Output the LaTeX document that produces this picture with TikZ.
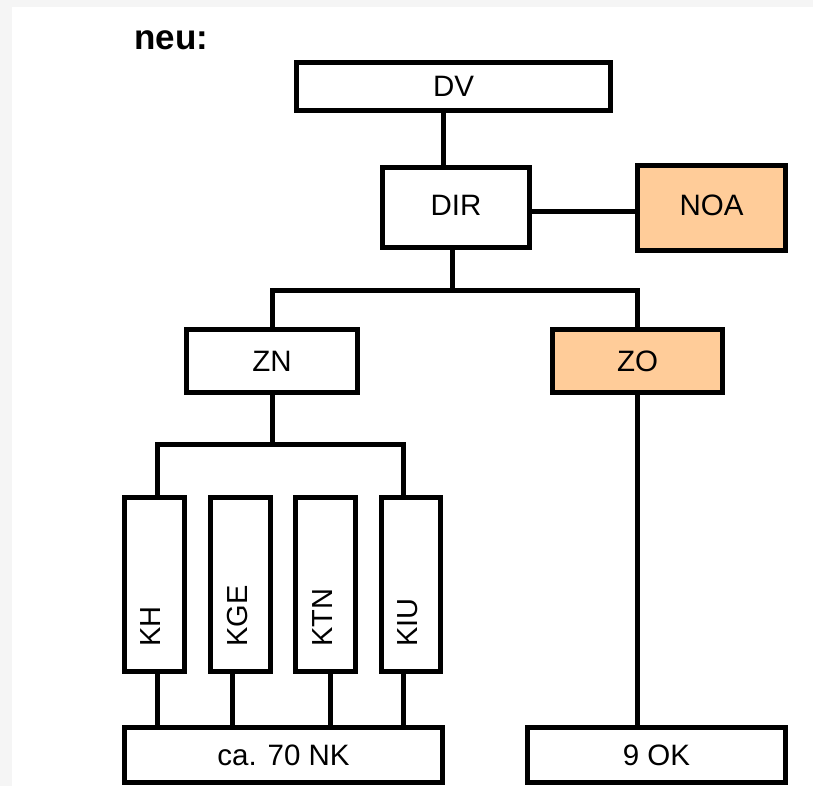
\documentclass[tikz,border=0pt]{standalone}
\usepackage{fontspec}
\setmainfont{Liberation Sans}
\definecolor{peach}{HTML}{FFCC99}
\definecolor{bggray}{HTML}{F5F5F5}
\begin{document}
\begin{tikzpicture}[x=1pt,y=-1pt,
  box/.style={draw=black, line width=5pt, fill=white, inner sep=0pt, font=\fontsize{29.5}{34}\selectfont},
  hl/.style={box, fill=peach},
  vlabel/.style={rotate=90, anchor=base west, inner sep=0pt, font=\fontsize{29}{34}\selectfont},
  conn/.style={draw=black, line width=5pt}]
\useasboundingbox (0,0) rectangle (813,786);
\fill[bggray] (0,0) rectangle (813,786);
\fill[white] (12,7) rectangle (813,786);

\node[anchor=base west, inner sep=0pt, font=\fontsize{35}{40}\selectfont\bfseries] (title) at (134,50) {neu:};

\node[box, minimum width=314pt, minimum height=48pt] (DV) at (453.5,86.5) {\raisebox{-1.5pt}{DV}};
\node[box, minimum width=147pt, minimum height=80pt] (DIR) at (456,207.5) {\raisebox{5pt}{DIR}};
\node[hl, minimum width=148pt, minimum height=85pt] (NOA) at (711.5,208) {\raisebox{5pt}{NOA}};
\node[box, minimum width=171pt, minimum height=63pt] (ZN) at (272,361) {ZN};
\node[hl, minimum width=170pt, minimum height=63pt] (ZO) at (637.5,361) {ZO};

\node[box, minimum width=60pt, minimum height=174pt] (KH) at (154.5,584.5) {};
\node[box, minimum width=60pt, minimum height=174pt] (KGE) at (240.5,584.5) {};
\node[box, minimum width=60pt, minimum height=174pt] (KTN) at (325.5,584.5) {};
\node[box, minimum width=59pt, minimum height=174pt] (KIU) at (411,584.5) {};
\node[vlabel] (tKH) at (160,647) {KH};
\node[vlabel] (tKGE) at (247,647) {KGE};
\node[vlabel] (tKTN) at (332,647) {KTN};
\node[vlabel] (tKIU) at (417,647) {KIU};

\node[box, minimum width=318pt, minimum height=55pt] (NK) at (283.5,755) {ca. 70 NK};
\node[box, minimum width=258pt, minimum height=55pt] (OK) at (656.5,755) {9 OK};

\coordinate (a) at (443,0);
\coordinate (b) at (0,212);
\coordinate (c) at (452,290.5);
\coordinate (d) at (272,444);
\coordinate (k1) at (157,0);
\coordinate (k2) at (232,0);
\coordinate (k3) at (330,0);
\coordinate (k4) at (403,0);
\coordinate (z) at (637.5,0);

\draw[conn] (DV.south -| a) -- (DIR.north -| a);
\draw[conn] (DIR.east |- b) -- (NOA.west |- b);
\draw[conn] (DIR.south -| c) -- (c);
\draw[conn] (ZN.north) |- (c) -| (ZO.north);
\draw[conn] (ZN.south) -- (d);
\draw[conn] (KH.north -| k1) |- (d) -| (KIU.north -| k4);
\draw[conn] (KGE.north -| k2) -- (KGE.north -| k2 |- d);
\draw[conn] (KTN.north -| k3) -- (KTN.north -| k3 |- d);
\draw[conn] (KH.south -| k1) -- (NK.north -| k1);
\draw[conn] (KGE.south -| k2) -- (NK.north -| k2);
\draw[conn] (KTN.south -| k3) -- (NK.north -| k3);
\draw[conn] (KIU.south -| k4) -- (NK.north -| k4);
\draw[conn] (ZO.south -| z) -- (OK.north -| z);
\end{tikzpicture}
\end{document}
